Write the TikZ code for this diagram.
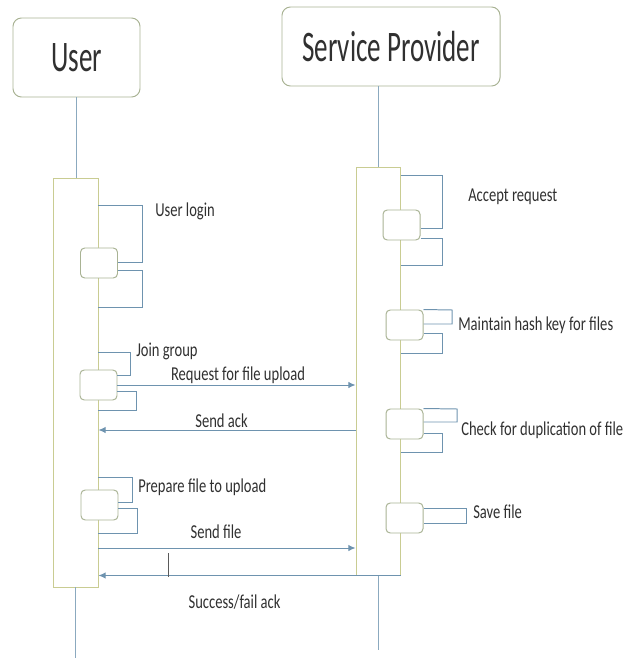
\documentclass[tikz,border=0pt]{standalone}
\usepackage{fontspec}
\setmainfont{Carlito}
\usepackage{graphicx}
\usetikzlibrary{positioning,calc,arrows.meta}

\definecolor{msgline}{HTML}{6E93AF}
\definecolor{barline}{HTML}{C9CC92}
\definecolor{boxline}{HTML}{A9B394}
\definecolor{inkgray}{HTML}{303030}

% narrow text like the original
\newcommand{\wsq}[1]{\scalebox{0.74}[1]{#1}}
\newcommand{\tsq}[1]{\scalebox{0.62}[1]{#1}}

\begin{document}
\begin{tikzpicture}[x=0.025cm,y=-0.025cm,>={Latex[length=5pt,width=4.5pt]},
    actor/.style={draw=boxline,rounded corners=6pt,fill=white,line width=0.7pt,inner sep=0pt,
        minimum height=79*0.025cm,font=\fontsize{31}{34}\selectfont,text=inkgray},
    bar/.style={draw=barline,fill=white,line width=0.7pt,inner sep=0pt},
    act/.style={draw=boxline,rounded corners=3pt,fill=white,line width=0.7pt,inner sep=0pt,
        minimum width=37*0.025cm,minimum height=30*0.025cm},
    life/.style={draw=msgline!80,line width=0.7pt},
    selfloop/.style={draw=msgline,line width=0.7pt},
    msg/.style={draw=msgline,line width=0.7pt,->},
    lbl/.style={font=\fontsize{14}{16}\selectfont,text=inkgray,inner sep=0pt}]
    \useasboundingbox (0,0) rectangle (641,661);

    % lifeline heads
    \node[actor,minimum width=127*0.025cm] (user) at (76.5,57.5) {\tsq{User}};
    \node[actor,minimum width=218*0.025cm] (sp) at (391,46.5) {\tsq{Service Provider}};

    % activation bars
    \node[bar,minimum width=45*0.025cm,minimum height=409*0.025cm] (ubar) at (75.5,382.5) {};
    \node[bar,minimum width=44*0.025cm,minimum height=408*0.025cm] (spbar) at (378,371) {};

    \draw[life] (user.south) -- (user.south |- ubar.north);
    \draw[life] (ubar.south) -- ++(0,70);
    \draw[life] (spbar.north) -- (spbar.north |- sp.south);
    \draw[life] (spbar.south) -- ++(0,75);

    % self calls, user side
    \node[act] (u1) at (99,263) {};
    \node[act] (u2) at (98.5,385) {};
    \node[act] (u3) at (99.5,505) {};
    \draw[selfloop] (ubar.east |- 0,205) -- (142,205) |- ($(u1.east)+(0,-1)$);
    \draw[selfloop] ($(u1.east)+(0,7)$) -- (142,270) |- (ubar.east |- 0,307);
    \draw[selfloop] (ubar.east |- 0,352) -- (130,352) |- ($(u2.east)+(0,-10)$);
    \draw[selfloop] ($(u2.east)+(0,6)$) -- (136,391) |- (ubar.east |- 0,410);
    \draw[selfloop] (ubar.east |- 0,477) -- (132,477) |- ($(u3.east)+(0,-3)$);
    \draw[selfloop] ($(u3.east)+(0,3)$) -- (137,508) |- (ubar.east |- 0,533);

    % self calls, provider side
    \node[act] (s1) at (401.5,225) {};
    \node[act] (s2) at (404.5,325) {};
    \node[act] (s3) at (404.5,424) {};
    \node[act] (s4) at (404.5,518) {};
    \draw[selfloop] (spbar.east |- 0,175) -- (442,175) |- ($(s1.east)+(0,3)$);
    \draw[selfloop] ($(s1.east)+(0,13)$) -- (442,238) |- (spbar.east |- 0,265);
    \draw[selfloop] (s2.north east) -- (452,310) |- ($(s2.east)+(0,-1)$);
    \draw[selfloop] ($(s2.east)+(0,8)$) -- (442,333) |- (spbar.east |- 0,353);
    \draw[selfloop] (s3.north east) -- (457,409) |- ($(s3.east)+(0,-2)$);
    \draw[selfloop] ($(s3.east)+(0,9)$) -- (442,433) |- (spbar.east |- 0,452);
    \draw[selfloop] ($(s4.east)+(0,-10)$) -- (466,508) |- ($(s4.east)+(0,5)$);

    % messages
    \draw[msg] (u2.east) -- (u2.east -| spbar.west);
    \draw[msg] (spbar.west |- 0,430) -- (ubar.east |- 0,430);
    \draw[msg] (ubar.east |- 0,548) -- (spbar.west |- 0,548);
    \draw[msg] (spbar.south east) -- (ubar.east |- spbar.south);
    \draw[inkgray!80,line width=0.7pt] (168,553) -- (168,577);

    % labels
    \node[lbl,anchor=base west] (tLogin) at (155,217) {\wsq{User login}};
    \node[lbl,anchor=base west] (tJoin) at (136,356) {\wsq{Join group}};
    \node[lbl,anchor=base] (tReq) at (238,380) {\wsq{Request for file upload}};
    \node[lbl,anchor=base] (tAck) at (221.5,427) {\wsq{Send ack}};
    \node[lbl,anchor=base west] (tPrep) at (138,492) {\wsq{Prepare file to upload}};
    \node[lbl,anchor=base] (tSend) at (216,538) {\wsq{Send file}};
    \node[lbl,anchor=base] (tDone) at (234.5,608) {\wsq{Success/fail ack}};
    \node[lbl,anchor=base west] (tAccept) at (468,202) {\wsq{Accept request}};
    \node[lbl,anchor=base west] (tHash) at (458,330) {\wsq{Maintain hash key for files}};
    \node[lbl,anchor=base west] (tDup) at (461,435) {\wsq{Check for duplication of file}};
    \node[lbl,anchor=base west] (tSave) at (473,518) {\wsq{Save file}};
\end{tikzpicture}
\end{document}
